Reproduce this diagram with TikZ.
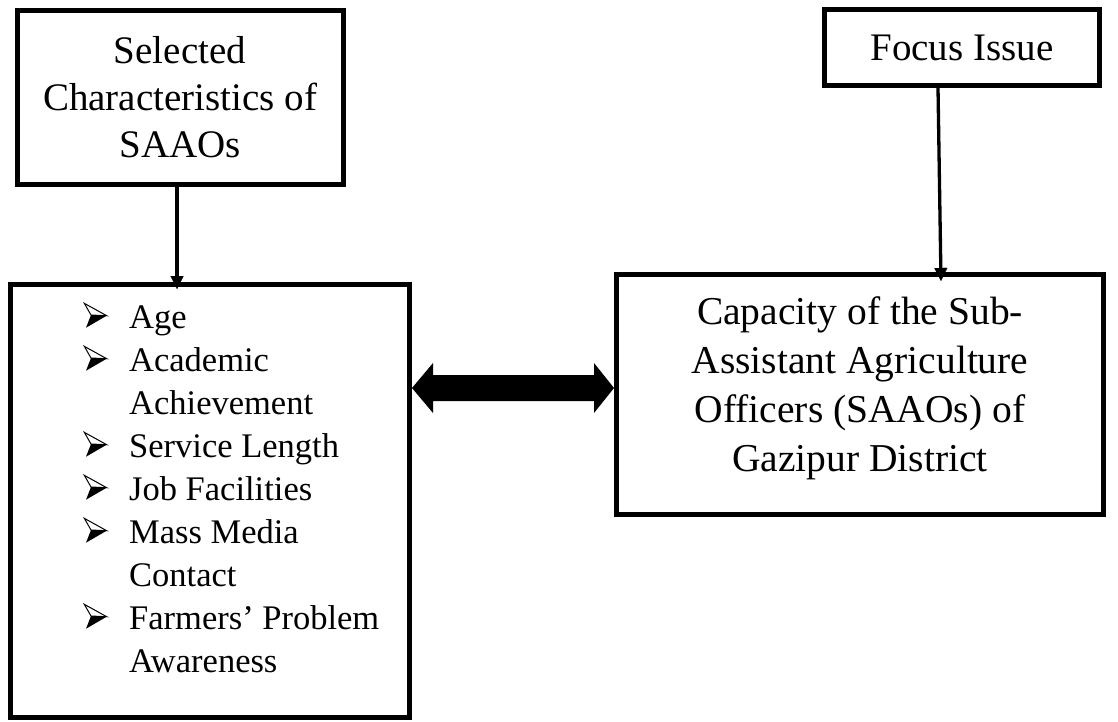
\documentclass[tikz,border=0pt]{standalone}
\usepackage{fontspec}
\setmainfont{Liberation Serif}
\usetikzlibrary{arrows.meta,calc}
\tikzset{
  box/.style={draw, line width=5pt, inner sep=0pt, align=center},
  boxfont/.style={font=\fontsize{39}{47}\selectfont},
  item/.style={anchor=base west, inner sep=0pt, font=\fontsize{34.5}{43}\selectfont},
  link/.style={line width=3.3pt, -{Triangle[length=13pt,width=13pt,line width=0.01pt]}},
  pics/bullet/.style={code={
    \draw[line width=1pt, line join=miter] (1.3,24.7) -- (23.7,12.3) -- (8,13) -- cycle;
    \fill (8,13) -- (23.7,12.3) -- (3,0.3) -- cycle;
  }},
}
\begin{document}
\begin{tikzpicture}[x=1pt,y=1pt]
\useasboundingbox (0,0) rectangle (1118,-721);
% boxes
\node[box, boxfont, minimum width=326pt, minimum height=174pt] (b1) at (180,-97)
  {Selected\\Characteristics of\\SAAOs};
\node[box, minimum width=399pt, minimum height=433pt] (b2) at (210,-501) {};
\node[box, boxfont, minimum width=275pt, minimum height=76pt] (b3) at (962,-47.5)
  {Focus Issue};
\node[box, minimum width=487pt, minimum height=240pt] (b4) at (860,-394.5) {};
\node[align=center, inner sep=0pt, font=\fontsize{39.5}{49}\selectfont] (t4) at ([yshift=6pt]b4.center)
  {Capacity of the Sub-\\Assistant Agriculture\\Officers (SAAOs) of\\Gazipur District};
% list
\node[item] (l1) at (129,-328) {Age};
\node[item] (l2) at (129,-371) {Academic};
\node[item] (l3) at (129,-414) {Achievement};
\node[item] (l4) at (129,-457) {Service Length};
\node[item] (l5) at (129,-500) {Job Facilities};
\node[item] (l6) at (129,-543) {Mass Media};
\node[item] (l7) at (129,-586) {Contact};
\node[item] (l8) at (129,-629) {Farmers’ Problem};
\node[item] (l9) at (129,-672) {Awareness};
\foreach \n in {l1,l2,l4,l5,l6,l8}
  \pic at ([xshift=-46pt]\n.base west) {bullet};
% connectors
\draw[link] ([xshift=-3pt]b1.south) -- ([xshift=-33pt,yshift=-7pt]b2.north);
\draw[link] ([xshift=-24pt]b3.south) -- ([xshift=81pt,yshift=-9pt]b4.north);
\coordinate (dl) at (b2.east |- 0,-388);
\coordinate (dr) at (b4.west |- 0,-388);
\fill (dl) -- ++(21,25) -- ++(0,-12) -- ($(dr)+(-20,13)$) -- ++(0,12) -- (dr)
  -- ++(-20,-25) -- ++(0,12) -- ($(dl)+(21,-13)$) -- ++(0,-12) -- cycle;
\end{tikzpicture}
\end{document}
